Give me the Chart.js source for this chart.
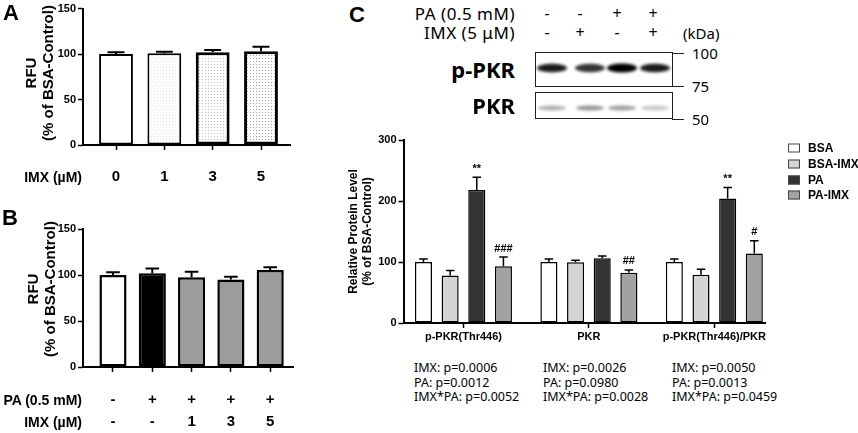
<!DOCTYPE html>
<html>
<head>
<meta charset="utf-8">
<script src="https://cdn.jsdelivr.net/npm/chart.js@4.4.1/dist/chart.umd.min.js"></script>
<style>
body { margin:0; width:858px; height:433px; position:relative; background:#fff; overflow:hidden;
  font-family:"Liberation Sans", Arial, sans-serif; color:#000; }
.box { position:absolute; }
.t { position:absolute; white-space:nowrap; transform:translateY(-50%); line-height:1.2; }
.r { transform:translate(-100%,-50%); }
.c { transform:translate(-50%,-50%); }
.b { font-weight:bold; }
.v { transform:translate(-50%,-50%) rotate(-90deg); text-align:center; line-height:17px; }
.letter { font-weight:bold; font-size:22px; }
.n { font-family:"Noto Sans", sans-serif; }
.lg { position:absolute; left:788px; width:10px; height:7px; border:1px solid #444; transform:translateY(-50%); }
</style>
</head>
<body>
<div class="box" style="left:0;top:0;width:300px;height:200px"><canvas id="chartA"></canvas></div>
<div class="box" style="left:0;top:210px;width:300px;height:223px"><canvas id="chartB"></canvas></div>
<div class="box" style="left:320px;top:125px;width:538px;height:225px"><canvas id="chartC"></canvas></div>
<canvas id="blot" width="160" height="80" style="position:absolute;left:530px;top:45px"></canvas>
<div id="labels"></div>

<script>
// panel A
const aLabels = ['0', '1', '3', '5'];
const aValues = [100, 101, 102, 103];
const aErrors = [2, 1.5, 2.5, 5];

// panel B
const bPA = ['-', '+', '+', '+', '+'];
const bIMX = ['-', '-', '1', '3', '5'];
const bValues = [100, 102, 97.5, 95, 105.5];
const bErrors = [3, 5, 6, 3, 3];

// panel C
const cGroups = ['p-PKR(Thr446)', 'PKR', 'p-PKR(Thr446)/PKR'];
const cSeries = ['BSA', 'BSA-IMX', 'PA', 'PA-IMX'];
const cBSA = [100, 100, 100];
const cBSAIMX = [78, 99.5, 79];
const cPA = [218, 106, 204];
const cPAIMX = [93, 82.5, 114];
const cBSAErr = [5, 5, 5];
const cBSAIMXErr = [8, 3.5, 9];
const cPAErr = [21, 4, 18];
const cPAIMXErr = [15, 4.5, 21];
const cPAMarks = ['**', '', '**'];
const cPAIMXMarks = ['###', '##', '#'];
const pValues = [
  ['IMX: p=0.0006', 'PA: p=0.0012', 'IMX*PA: p=0.0052'],
  ['IMX: p=0.0026', 'PA: p=0.0980', 'IMX*PA: p=0.0028'],
  ['IMX: p=0.0050', 'PA: p=0.0013', 'IMX*PA: p=0.0459']
];

// blot lanes
const blotPA = ['-', '-', '+', '+'];
const blotIMX = ['-', '+', '-', '+'];
const pPkrBand = [0.9, 0.8, 1.0, 0.9];
const pkrBand = [0.36, 0.5, 0.45, 0.25];
const kdaMarks = ['100', '75', '50'];

Chart.defaults.font.family = '"Liberation Sans", Arial, sans-serif';
Chart.defaults.color = '#000';

const errorBars = {
  id: 'errorBars',
  afterDatasetsDraw(chart, args, opts) {
    const ctx = chart.ctx;
    const ys = chart.scales.y;
    chart.data.datasets.forEach((ds, i) => {
      const meta = chart.getDatasetMeta(i);
      meta.data.forEach((bar, j) => {
        const v = ds.data[j].y;
        const top = ys.getPixelForValue(v + ds.errors[j]);
        const half = bar.width * opts.cap;
        ctx.save();
        ctx.strokeStyle = '#000';
        ctx.lineWidth = opts.width;
        ctx.beginPath();
        ctx.moveTo(bar.x, bar.y);
        ctx.lineTo(bar.x, top);
        ctx.moveTo(bar.x - half, top);
        ctx.lineTo(bar.x + half, top);
        ctx.stroke();
        if (ds.marks && ds.marks[j]) {
          ctx.fillStyle = '#000';
          ctx.font = 'bold 11px "Liberation Sans", Arial, sans-serif';
          ctx.textAlign = 'center';
          ctx.textBaseline = 'bottom';
          ctx.fillText(ds.marks[j], bar.x, top - 3);
        }
        ctx.restore();
      });
    });
  }
};

function points(values) {
  return values.map((v, i) => ({ x: i, y: v }));
}

function dots(color) {
  const c = document.createElement('canvas');
  c.width = 3; c.height = 3;
  const g = c.getContext('2d');
  g.fillStyle = '#fff';
  g.fillRect(0, 0, 3, 3);
  g.fillStyle = color;
  g.fillRect(1, 1, 1, 1);
  return g.createPattern(c, 'repeat');
}

function yScale(max, step, width, title, titleSize, titlePad) {
  return {
    min: 0, max: max,
    ticks: { stepSize: step, font: { weight: 'bold', size: 11 }, padding: 2 },
    grid: { drawOnChartArea: false, color: '#000', tickLength: 5, tickWidth: 1.5 },
    border: { color: '#000', width: 2 },
    title: { display: !!title, text: title || '', font: { weight: 'bold', size: titleSize }, padding: { top: titlePad, bottom: 0 } },
    afterFit: s => { s.width = width; }
  };
}

function xScale(labels, min, max, height, font, padding) {
  return {
    type: 'linear', min: min, max: max, offset: false,
    afterBuildTicks: s => { s.ticks = labels.map((_, i) => ({ value: i })); },
    ticks: { callback: v => labels[v], font: font, padding: padding, autoSkip: false, maxRotation: 0 },
    grid: { offset: false, drawOnChartArea: false, color: '#000', tickLength: 5, tickWidth: 1.5 },
    border: { color: '#000', width: 2 },
    afterFit: s => { s.height = height; }
  };
}

const common = {
  responsive: true,
  maintainAspectRatio: false,
  animation: false,
  plugins: { legend: { display: false }, tooltip: { enabled: false } }
};

new Chart('chartA', {
  type: 'bar',
  data: {
    datasets: [{
      data: points(aValues),
      errors: aErrors,
      backgroundColor: ['#fff', dots('#e2e2e2'), dots('#c2c2c2'), dots('#a4a4a4')],
      borderColor: '#000',
      borderWidth: [2, 2, 3, 3],
      borderSkipped: false,
      barPercentage: 0.7,
      categoryPercentage: 1
    }]
  },
  options: Object.assign({}, common, {
    layout: { padding: { left: 0, right: 10, top: 6, bottom: 0 } },
    plugins: Object.assign({}, common.plugins, { errorBars: { cap: 0.25, width: 2 } }),
    scales: {
      x: xScale(aLabels, -0.683, 3.6, 55, { weight: 'bold', size: 15 }, 18),
      y: yScale(150, 50, 83, null, 15, 0)
    }
  }),
  plugins: [errorBars]
});

new Chart('chartB', {
  type: 'bar',
  data: {
    datasets: [{
      data: points(bValues),
      errors: bErrors,
      backgroundColor: ['#fff', '#000', '#9c9c9c', '#9c9c9c', '#9c9c9c'],
      borderColor: '#000',
      borderWidth: 2.5,
      borderSkipped: false,
      barPercentage: 0.69,
      categoryPercentage: 1
    }]
  },
  options: Object.assign({}, common, {
    layout: { padding: { left: 0, right: 7, top: 19, bottom: 0 } },
    plugins: Object.assign({}, common.plugins, { errorBars: { cap: 0.25, width: 2 } }),
    scales: {
      x: xScale(bPA.map((p, i) => [p, bIMX[i]]), -0.763, 4.58, 66, { weight: 'bold', size: 15, lineHeight: '22px' }, 17),
      y: yScale(150, 50, 83, null, 15, 0)
    }
  }),
  plugins: [errorBars]
});

const cColors = ['#ffffff', '#d4d4d4', '#333333', '#a2a2a2'];
const cValues = [cBSA, cBSAIMX, cPA, cPAIMX];
const cErrors = [cBSAErr, cBSAIMXErr, cPAErr, cPAIMXErr];
const cMarks = [null, null, cPAMarks, cPAIMXMarks];

new Chart('chartC', {
  type: 'bar',
  data: {
    datasets: cSeries.map((name, k) => ({
      label: name,
      data: points(cValues[k]),
      errors: cErrors[k],
      marks: cMarks[k],
      backgroundColor: cColors[k],
      borderColor: '#000',
      borderWidth: 1.5,
      borderSkipped: false,
      barPercentage: 0.64,
      categoryPercentage: 0.85
    }))
  },
  options: Object.assign({}, common, {
    layout: { padding: { left: 0, right: 92.5, top: 15, bottom: 0 } },
    plugins: Object.assign({}, common.plugins, { errorBars: { cap: 0.25, width: 1.5 } }),
    scales: {
      x: xScale(cGroups, -0.478, 2.408, 27, { weight: 'bold', size: 11 }, 2),
      y: yScale(300, 100, 83.5, ['Relative Protein Level', '(% of BSA-Control)'], 12, 26)
    }
  }),
  plugins: [errorBars]
});

// western blot picture
const bc = document.getElementById('blot').getContext('2d');
const laneX = [22, 60, 92, 125];
bc.fillStyle = '#fff';
bc.fillRect(0, 0, 160, 80);
bc.save();
bc.filter = 'blur(1.6px)';
laneX.forEach((x, i) => {
  bc.fillStyle = 'rgba(0,0,0,' + pPkrBand[i] + ')';
  bc.beginPath();
  bc.ellipse(x, 23, 15, 3 + pPkrBand[i] * 1.5, 0, 0, Math.PI * 2);
  bc.fill();
  bc.fillStyle = 'rgba(40,40,40,' + pkrBand[i] + ')';
  bc.beginPath();
  bc.ellipse(x, 63, 14, 2.4, 0, 0, Math.PI * 2);
  bc.fill();
});
bc.restore();
bc.strokeStyle = '#222';
bc.lineWidth = 1;
bc.strokeRect(5.5, 7.5, 137, 34);
bc.strokeRect(5.5, 47.5, 137, 26);
[8, 41, 74].forEach(y => {
  bc.beginPath();
  bc.moveTo(142, y + 0.5);
  bc.lineTo(154, y + 0.5);
  bc.stroke();
});

// text labels
const L = document.getElementById('labels');
function put(text, x, y, cls, style) {
  const d = document.createElement('div');
  d.className = 't ' + (cls || '');
  d.style.left = x + 'px';
  d.style.top = y + 'px';
  if (style) d.style.cssText += style;
  d.textContent = text;
  L.appendChild(d);
  return d;
}
put('A', 3, 13, 'letter');
put('B', 2, 218, 'letter');
put('C', 349, 15, 'letter');
put('RFU\n(% of BSA-Control)', 39, 73, 'b v', 'font-size:15px;white-space:pre');
put('RFU\n(% of BSA-Control)', 41, 289, 'b v', 'font-size:15px;white-space:pre');
put('IMX (\u00b5M)', 82, 177, 'b r', 'font-size:14px');
put('PA (0.5 mM)', 82, 400, 'b r', 'font-size:14px');
put('IMX (\u00b5M)', 82, 422, 'b r', 'font-size:14px');

put('PA (0.5 mM)', 515, 14, 'n r', 'font-size:17px;letter-spacing:0.5px');
put('IMX (5 \u03bcM)', 515, 33, 'n r', 'font-size:17px;letter-spacing:0.5px');
const signX = [547, 580, 617, 653];
signX.forEach((x, i) => {
  put(blotPA[i], x, 14, 'n c', 'font-size:16px');
  put(blotIMX[i], x, 33, 'n c', 'font-size:16px');
});
put('(kDa)', 683, 33, 'n', 'font-size:15px');
[53, 86, 119].forEach((y, i) => put(kdaMarks[i], 692, y, 'n', 'font-size:15px'));
put('p-PKR', 515, 69, 'n r b', 'font-size:22px');
put('PKR', 515, 105, 'n r b', 'font-size:22px');

cSeries.forEach((name, k) => {
  const y = 148 + k * 15.8;
  const sw = document.createElement('div');
  sw.className = 'lg';
  sw.style.top = y + 'px';
  sw.style.background = cColors[k];
  L.appendChild(sw);
  put(name, 808, y, 'b', 'font-size:12px');
});

const pX = [414, 543, 672];
pValues.forEach((col, i) => {
  col.forEach((line, j) => put(line, pX[i], 367 + j * 14.7, 'n', 'font-size:12.5px'));
});
</script>
</body>
</html>
